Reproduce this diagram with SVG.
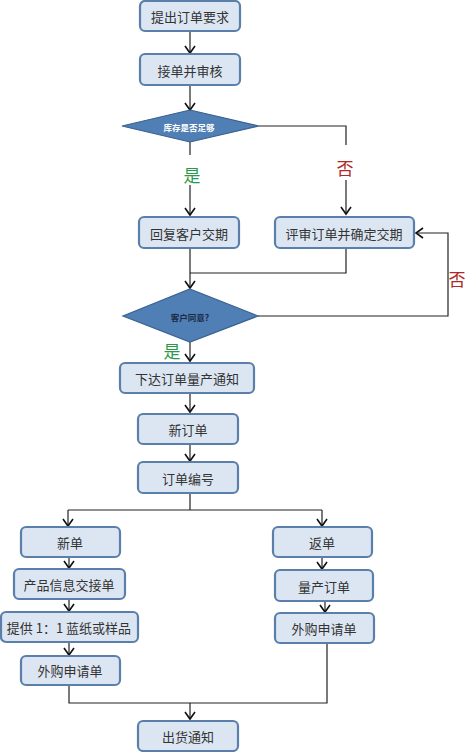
<svg xmlns="http://www.w3.org/2000/svg" width="475" height="752" viewBox="0 0 475 752">
<defs>
<marker id="ah" markerWidth="12" markerHeight="12" refX="9" refY="6" orient="auto" markerUnits="userSpaceOnUse" viewBox="0 0 12 12">
<path d="M2,1 L9,6 L2,11" fill="none" stroke="#111" stroke-width="1.6"/>
</marker>
</defs>
<style>
.box{fill:#dce6f2;stroke:#5b7fab;stroke-width:2.2}
.dia{fill:#4f7fb5;stroke:#3a628f;stroke-width:1.2}
.t{font-family:"Noto Sans CJK SC","Liberation Serif",serif;font-size:13px;fill:#333;text-anchor:middle;dominant-baseline:central}
.dt{font-family:"Noto Sans CJK SC","Liberation Sans",sans-serif;font-size:8.5px;font-weight:bold;text-anchor:middle;dominant-baseline:central}
.c{fill:none;stroke:#222;stroke-width:1.2}
.yes{font-family:"Noto Sans CJK SC",sans-serif;font-size:17px;fill:#2a9a4a;text-anchor:middle;dominant-baseline:central}
.no{font-family:"Noto Sans CJK SC",sans-serif;font-size:17px;fill:#b02828;text-anchor:middle;dominant-baseline:central}
</style>
<rect width="475" height="752" fill="#fff"/>
<g id="connectors">
<path class="c" d="M190,31 V53" marker-end="url(#ah)"/>
<path class="c" d="M190,85 V110" marker-end="url(#ah)"/>
<path class="c" d="M190,142 V155"/>
<path class="c" d="M190,185 V215" marker-end="url(#ah)"/>
<path class="c" d="M259,126 H346 V145"/>
<path class="c" d="M346,180 V214" marker-end="url(#ah)"/>
<path class="c" d="M190,248 V288" marker-end="url(#ah)"/>
<path class="c" d="M346,248 V273 H190"/>
<path class="c" d="M258,316 H448 V233 H416" marker-end="url(#ah)"/>
<path class="c" d="M190,342 V361" marker-end="url(#ah)"/>
<path class="c" d="M190,393 V412" marker-end="url(#ah)"/>
<path class="c" d="M190,444 V461" marker-end="url(#ah)"/>
<path class="c" d="M190,493 V510 M68,510 H322"/>
<path class="c" d="M68,510 V526" marker-end="url(#ah)"/>
<path class="c" d="M322,510 V526" marker-end="url(#ah)"/>
<path class="c" d="M69,557 V568" marker-end="url(#ah)"/>
<path class="c" d="M69,599 V611" marker-end="url(#ah)"/>
<path class="c" d="M69,642 V655" marker-end="url(#ah)"/>
<path class="c" d="M322,557 V569" marker-end="url(#ah)"/>
<path class="c" d="M325,601 V612" marker-end="url(#ah)"/>
<path class="c" d="M69,685 V703 H327 V643"/>
<path class="c" d="M190,703 V719" marker-end="url(#ah)"/>
</g>
<g id="n1"><rect class="box" x="140" y="1" width="100" height="30" rx="5"/><text class="t" x="190" y="16">提出订单要求</text></g>
<g id="n2"><rect class="box" x="140" y="54" width="100" height="31" rx="5"/><text class="t" x="190" y="70">接单并审核</text></g>
<g id="d1"><polygon class="dia" points="190,110 259,126 190,142 122,126"/><text class="dt" x="189" y="127" fill="#fff">库存是否足够</text></g>
<text class="yes" x="192" y="174">是</text>
<text class="no" x="345" y="167">否</text>
<g id="n3"><rect class="box" x="139" y="217" width="100" height="31" rx="5"/><text class="t" x="189" y="233">回复客户交期</text></g>
<g id="n4"><rect class="box" x="275" y="217" width="139" height="31" rx="5"/><text class="t" x="344" y="233">评审订单并确定交期</text></g>
<text class="no" x="457" y="278">否</text>
<g id="d2"><polygon class="dia" points="190,289 258,316 190,342 123,316"/><text class="dt" x="190" y="317" fill="#1a2a44">客户同意?</text></g>
<text class="yes" x="172" y="350">是</text>
<g id="n5"><rect class="box" x="120" y="363" width="134" height="30" rx="5"/><text class="t" x="187" y="378">下达订单量产通知</text></g>
<g id="n6"><rect class="box" x="138" y="414" width="100" height="30" rx="5"/><text class="t" x="188" y="429">新订单</text></g>
<g id="n7"><rect class="box" x="138" y="462" width="100" height="31" rx="5"/><text class="t" x="188" y="478">订单编号</text></g>
<g id="n8"><rect class="box" x="21" y="527" width="99" height="30" rx="5"/><text class="t" x="70" y="542">新单</text></g>
<g id="n9"><rect class="box" x="14" y="569" width="111" height="30" rx="5"/><text class="t" x="69" y="584">产品信息交接单</text></g>
<g id="n10"><rect class="box" x="1" y="612" width="137" height="30" rx="5"/><text class="t" x="69" y="627">提供 1：1 蓝纸或样品</text></g>
<g id="n11"><rect class="box" x="21" y="656" width="99" height="29" rx="5"/><text class="t" x="70" y="670">外购申请单</text></g>
<g id="n12"><rect class="box" x="273" y="527" width="99" height="30" rx="5"/><text class="t" x="322" y="542">返单</text></g>
<g id="n13"><rect class="box" x="275" y="570" width="98" height="31" rx="5"/><text class="t" x="324" y="586">量产订单</text></g>
<g id="n14"><rect class="box" x="275" y="613" width="99" height="30" rx="5"/><text class="t" x="324" y="628">外购申请单</text></g>
<g id="n15"><rect class="box" x="138" y="721" width="100" height="30" rx="5"/><text class="t" x="188" y="736">出货通知</text></g>
</svg>
